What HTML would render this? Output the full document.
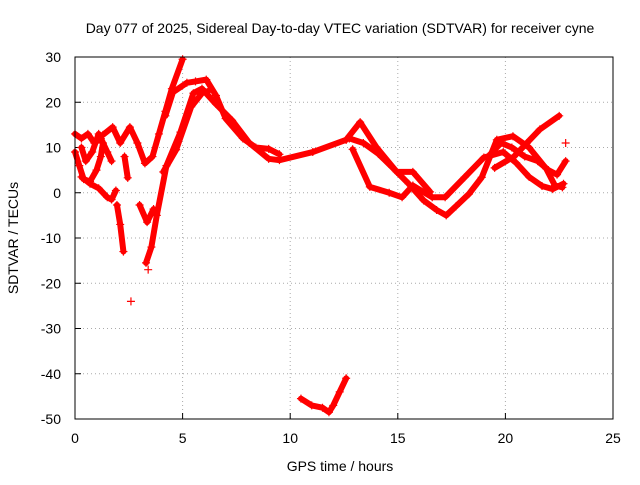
<!DOCTYPE html>
<html><head><meta charset="utf-8"><style>
body{margin:0;background:#fff}
svg{font-family:"Liberation Sans",sans-serif;font-size:14px}
</style></head><body>
<svg id="c" width="640" height="480">
<text x="340" y="33" text-anchor="middle">Day 077 of 2025, Sidereal Day-to-day VTEC variation (SDTVAR) for receiver cyne</text>
<text x="340" y="471" text-anchor="middle">GPS time / hours</text>
<text transform="translate(18,238) rotate(-90)" text-anchor="middle">SDTVAR / TECUs</text>
<g id="grid"></g><g id="ticks"></g><g id="series"></g>
<rect x="75" y="57" width="538" height="362" fill="none" stroke="#000"/>
</svg>
<script>
const xTicks=[0,5,10,15,20,25];
const yTicks=[30,20,10,0,-10,-20,-30,-40,-50];
const blob1=[[0,13],[0.3,12],[0.6,13],[0.9,11],[1.2,12],[1.5,9],[1.7,7]];
const blob2=[[0,9],[0.2,6],[0.4,3],[0.7,2.5],[1,5],[1.2,8],[1.3,11],[1.1,13],[0.8,9],[0.5,7],[0.3,10]];
const blob3=[[0.3,3.5],[0.7,2],[1.1,1],[1.5,-1],[1.7,-1.5],[1.9,0.5]];
const trackB=[[1.3,12.8],[1.75,14.5],[2.1,11],[2.55,14.5],[2.9,11],[3.25,6.5],[3.6,8],[3.9,13],[4.2,18],[4.5,23],[5,29.5]];
const trackB2=[[2.3,8],[2.45,3.3]];
const trackC1=[[1.95,-2.7],[2.1,-7],[2.25,-13]];
const trackC0=[[3.0,-2.7],[3.35,-6.5],[3.65,-3.6]];
const trackC=[[3.3,-15.5],[3.55,-12],[3.8,-5],[4.25,6],[4.9,13.4],[5.5,22],[5.9,23],[6.55,19.6],[7.3,16],[8.1,11],[9.0,7.5],[9.5,7.2],[11.05,9],[12.6,11.7]];
const trackD=[[4.1,4.6],[4.7,9.5],[5.4,19],[5.9,22],[6.2,22.5]];
const trackD2=[[4.2,17],[4.55,22.2],[5.2,24.3],[5.6,24.6],[6.1,25],[6.55,21.5],[7.0,16.4],[7.8,12],[8.4,10],[9.0,9.7],[9.5,8.5]];
const trackE=[[12.6,11.7],[13.25,15.6],[14.0,10.1],[14.95,4.6],[15.7,4.6],[16.5,0.2]];
const trackF=[[12.75,12],[13.4,11],[14.1,8.6],[14.75,5.6],[15.5,2],[16.2,-1.7],[16.8,-3.8],[17.25,-5],[17.7,-3],[18.3,-0.3],[18.9,3.4],[19.6,11.7],[20.35,12.5],[21.1,10],[21.9,5.3],[22.3,1.6],[22.65,1.2]];
const trackG=[[12.9,9.6],[13.7,1.3],[14.6,0],[15.2,-1],[15.7,1.6],[16.6,-1],[17.2,-1],[18.1,3.4],[19.0,7.8],[19.9,9.0],[20.5,6.6],[21.1,3.5],[21.7,1.5],[22.2,0.8],[22.7,2]];
const trackI=[[19.5,5.5],[20.4,8],[21,11],[21.6,14],[22.5,17]];
const trackJ=[[19.2,8],[19.8,11],[20.3,10],[20.9,8],[21.5,7],[22,5],[22.4,4],[22.8,7]];
const trackH=[[10.5,-45.5],[11,-47],[11.5,-47.5],[11.8,-48.5],[12,-47],[12.3,-44],[12.6,-41]];
const isolated=[[2.6,-24],[22.8,11],[3.4,-17]];
const tracks=[blob1,blob2,blob3,trackB,trackB2,trackC1,trackC0,trackC,trackD,trackD2,trackE,trackF,trackG,trackI,trackJ,trackH];
const X=v=>75+v*538/25, Y=v=>57+(30-v)*362/80;
const NS="http://www.w3.org/2000/svg";
const mk=(t,a,p)=>{const e=document.createElementNS(NS,t);for(const k in a)e.setAttribute(k,a[k]);p.appendChild(e);return e;};
const g=document.getElementById('grid'),tk=document.getElementById('ticks'),s=document.getElementById('series');
xTicks.forEach(v=>{
 if(v>0&&v<25){const l=mk('line',{x1:X(v),x2:X(v),y1:57,y2:419,stroke:'#aaa','stroke-dasharray':'1,3'},g);
 
 }
 mk('line',{x1:X(v),x2:X(v),y1:419,y2:413,stroke:'#000'},tk);
 const t=mk('text',{x:X(v),y:443,'text-anchor':'middle'},tk);t.textContent=v;
 
 
});
yTicks.forEach(v=>{
 if(v<30&&v>-50){const l=mk('line',{x1:75,x2:613,y1:Y(v),y2:Y(v),stroke:'#aaa','stroke-dasharray':'1,3'},g);
 
 }
 mk('line',{x1:75,x2:81,y1:Y(v),y2:Y(v),stroke:'#000'},tk);
 const t=mk('text',{x:61,y:Y(v)+5,'text-anchor':'end'},tk);t.textContent=v;
 
 
});
tracks.forEach(tr=>{
 const p=mk('polyline',{points:tr.map(d=>X(d[0])+','+Y(d[1])).join(' '),fill:'none',stroke:'#f00','stroke-width':6,'stroke-linejoin':'round','stroke-linecap':'round'},s);
 
 
 tr.forEach(d=>{const m=mk('path',{d:`M${X(d[0])-4},${Y(d[1])}h8M${X(d[0])},${Y(d[1])-4}v8`,stroke:'#f00','stroke-width':1.2},s);
  
  });
});
isolated.forEach(d=>{const m=mk('path',{d:`M${X(d[0])-4},${Y(d[1])}h8M${X(d[0])},${Y(d[1])-4}v8`,stroke:'#f00','stroke-width':1.2},s);
 
 });
</script>
</body></html>
